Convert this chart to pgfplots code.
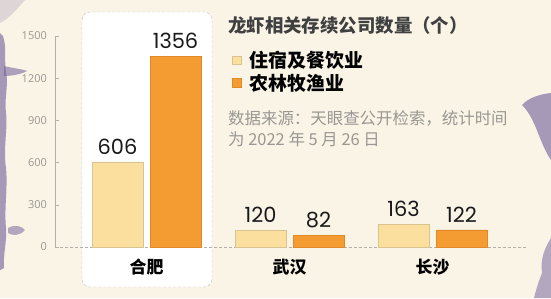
\documentclass[border=0pt]{standalone}
\usepackage{pgfplots}
\pgfplotsset{compat=1.18}
\usepackage{fontspec}
\setmainfont{Poppins}
\newfontfamily\cjk{Noto Sans CJK SC}
\newfontfamily\tickfont{Open Sans}
\definecolor{bg}{HTML}{FAF4E7}
\definecolor{lightbar}{HTML}{FBDF9F}
\definecolor{lightedge}{HTML}{D9C38E}
\definecolor{orangebar}{HTML}{F49B31}
\definecolor{orangeedge}{HTML}{E08A25}
\definecolor{grunge}{HTML}{6E5C98}
\definecolor{txtgray}{HTML}{9A9792}
\definecolor{axgray}{HTML}{B5B1AA}
\begin{document}
\begin{tikzpicture}[x=1bp,y=1bp]
\useasboundingbox (0,0) rectangle (551,298);
\fill[bg] (0,0) rectangle (551,298);
% grunge edges (decoration)
\fill[grunge,opacity=0.6] (0,265) -- (3,262) .. controls (7,250) and (4,240) .. (6,225) .. controls (9,215) and (4,200) .. (6,185) .. controls (8,170) and (3,150) .. (6,130) .. controls (8,110) and (4,90) .. (6,70) .. controls (7,55) and (3,45) .. (4,30) -- (0,28) -- cycle;
\fill[grunge,opacity=0.55] (4,232) .. controls (12,230) and (22,229) .. (27,227) .. controls (22,224) and (12,222) .. (4,222) -- cycle;
\fill[grunge,opacity=0.5] (8,70) .. controls (14,74) and (22,72) .. (25,68) .. controls (20,62) and (12,62) .. (8,65) -- cycle;
\fill[grunge,opacity=0.2] (0,298) -- (25,298) .. controls (18,290) and (10,280) .. (0,275) -- cycle;
\fill[grunge,opacity=0.6] (551,205) .. controls (540,204) and (528,200) .. (522,193) .. controls (530,185) and (534,175) .. (538,165) .. controls (542,155) and (546,145) .. (551,138) -- cycle;
\fill[grunge,opacity=0.5] (551,60) .. controls (545,50) and (540,40) .. (542,25) .. controls (538,15) and (536,8) .. (534,0) -- (551,0) -- cycle;
% highlight box
\draw[densely dashed, draw=axgray!80, fill=white, rounded corners=8] (82,11) rectangle (212,286);
\begin{axis}[
  at={(55bp,51bp)}, anchor=south west,
  scale only axis, width=472bp, height=211bp,
  xmin=-0.64, xmax=2.66, ymin=0, ymax=1500,
  ybar=7bp, bar width=51bp,
  axis x line=bottom, axis y line=left,
  axis line style={-, draw=axgray, line width=0.6pt},
  x axis line style={densely dashed},
  xtick={0,1,2}, xticklabels={合肥,武汉,长沙},
  xtick style={draw=none},
  xticklabel style={font=\cjk\bfseries\fontsize{17}{17}\selectfont, text=black, inner sep=0pt, anchor=north, yshift=-12bp},
  ytick={0,300,600,900,1200,1500},
  ytick style={draw=axgray, line width=0.6pt},
  major tick length=4bp,
  tick align=inside,
  /pgf/number format/assume math mode=true,
  /pgf/number format/1000 sep={},
  yticklabel style={font=\tickfont\fontsize{11}{11}\selectfont, text=txtgray, inner sep=0pt, xshift=-8bp},
  nodes near coords,
  every node near coord/.append style={font=\fontsize{21}{21}\selectfont, text=black!90, inner sep=0pt, anchor=south, yshift=7bp},
  legend image code/.code={\fill[#1] (0bp,-4bp) rectangle (8.5bp,4.5bp);},
  legend style={at={(0.375,0.935)}, anchor=north west, draw=none, fill=none, inner sep=0pt,
    font=\cjk\bfseries\fontsize{19}{19}\selectfont, row sep=2bp, nodes={inner sep=1.5bp}},
  legend cell align=left,
  clip=false,
]
\addplot[fill=lightbar, draw=lightedge, line width=0.4pt] coordinates {(0,606) (1,120) (2,163)};
\addplot[fill=orangebar, draw=orangeedge, line width=0.4pt] coordinates {(0,1356) (1,82) (2,122)};
\legend{\hspace{7bp}住宿及餐饮业,\hspace{7bp}农林牧渔业}
\end{axis}
\node[anchor=west, inner sep=0pt, text=black!75] at (228,273) {\cjk\bfseries\fontsize{18.5}{18.5}\selectfont 龙虾相关存续公司数量（个）};
\node[anchor=west, inner sep=0pt, text=txtgray] at (228,180) {\cjk\fontsize{16.5}{16.5}\selectfont 数据来源：天眼查公开检索，统计时间};
\node[anchor=west, inner sep=0pt, text=txtgray] at (228,159) {\cjk\fontsize{16.5}{16.5}\selectfont 为 2022 年 5 月 26 日};
\end{tikzpicture}
\end{document}
